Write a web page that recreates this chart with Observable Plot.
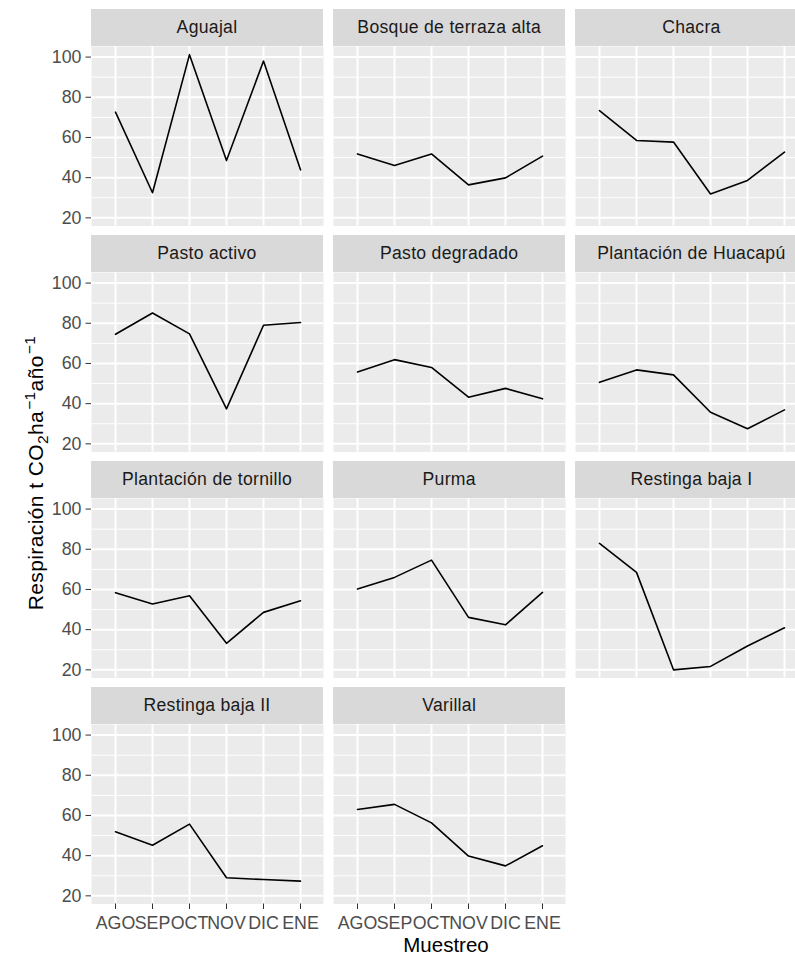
<!DOCTYPE html>
<html>
<head>
<meta charset="utf-8">
<script src="https://cdn.jsdelivr.net/npm/d3@7"></script>
<script src="https://cdn.jsdelivr.net/npm/@observablehq/plot@0.6"></script>
<style>
  html, body { margin: 0; padding: 0; background: #ffffff; overflow: hidden; }
  #chart { position: relative; width: 795px; height: 959px; overflow: hidden;
           font-family: "Liberation Sans", Arial, sans-serif; background: #ffffff; }
  .strip { position: absolute; background: #d9d9d9; color: #1a1a1a; font-size: 17.6px; letter-spacing: 0.3px;
           display: flex; align-items: center; justify-content: center; white-space: nowrap; overflow: hidden; }
  .panel { position: absolute; }
  #titles { position: absolute; left: 0; top: 0; pointer-events: none; }
</style>
</head>
<body>
<div id="chart"></div>
<script>
// ---- data ----
const months = ["AGO", "SEP", "OCT", "NOV", "DIC", "ENE"];
const sites = [
  "Aguajal", "Bosque de terraza alta", "Chacra",
  "Pasto activo", "Pasto degradado", "Plantación de Huacapú",
  "Plantación de tornillo", "Purma", "Restinga baja I",
  "Restinga baja II", "Varillal"
];
const aguajal        = [72.6, 32.5, 101.2, 48.5, 98.0, 43.9];
const bosqueTerraza  = [51.8, 46.0, 51.8, 36.4, 39.9, 50.7];
const chacra         = [73.4, 58.5, 57.7, 31.9, 38.6, 52.7];
const pastoActivo    = [74.5, 85.1, 74.7, 37.4, 79.0, 80.4];
const pastoDegradado = [55.8, 61.9, 58.0, 43.2, 47.6, 42.4];
const huacapu        = [50.6, 56.8, 54.3, 35.7, 27.5, 36.9];
const tornillo       = [58.4, 52.8, 56.9, 33.2, 48.6, 54.4];
const purma          = [60.2, 66.0, 74.6, 46.1, 42.4, 58.5];
const restingaI      = [82.9, 68.5, 20.0, 21.7, 31.9, 40.9];
const restingaII     = [51.9, 45.2, 55.7, 29.0, 28.1, 27.3];
const varillal       = [63.0, 65.5, 56.3, 39.8, 34.9, 44.9];
const seriesValues = [aguajal, bosqueTerraza, chacra, pastoActivo, pastoDegradado,
                      huacapu, tornillo, purma, restingaI, restingaII, varillal];
const yMajor = [20, 40, 60, 80, 100];
const yMinor = [30, 50, 70, 90];
const xTitle = "Muestreo";

// ---- layout ----
const PANEL_W = 232, PANEL_H = 179.5, STRIP_H = 36.5;
const colX = [91, 333.2, 575.4];
const rowY = [9, 235, 461, 687];
const allVals = seriesValues.flat();
const vMin = d3.min(allVals), vMax = d3.max(allVals);
const pad = (vMax - vMin) * 0.05;
const yDomain = [vMin - pad, vMax + pad];
const FONT = "'Liberation Sans', Arial, sans-serif";

const chart = document.getElementById("chart");

sites.forEach((site, i) => {
  const col = i % 3, row = Math.floor(i / 3);
  const showY = col === 0;
  const showX = row === 3;
  const ml = showY ? 60 : 0;
  const mb = showX ? 40 : 0;
  const data = months.map((m, j) => ({month: m, value: seriesValues[i][j]}));

  const strip = document.createElement("div");
  strip.className = "strip";
  strip.style.left = colX[col] + "px";
  strip.style.top = rowY[row] + "px";
  strip.style.width = PANEL_W + "px";
  strip.style.height = STRIP_H + "px";
  strip.textContent = site;
  chart.appendChild(strip);

  const marks = [
    Plot.frame({fill: "#ebebeb", stroke: "none"}),
    Plot.ruleY(yMinor, {stroke: "#ffffff", strokeWidth: 1}),
    Plot.ruleY(yMajor, {stroke: "#ffffff", strokeWidth: 2}),
    Plot.ruleX(months, {stroke: "#ffffff", strokeWidth: 2}),
    Plot.line(data, {x: "month", y: "value", stroke: "#000000", strokeWidth: 1.6})
  ];
  if (showY) marks.push(Plot.axisY(yMajor, {tickSize: 5.5, tickPadding: 4.5, stroke: "#333333", fill: "#4d4d4d", label: null, fontSize: 17.8}));
  if (showX) marks.push(Plot.axisX({tickSize: 5.5, tickPadding: 7, stroke: "#333333", fill: "#4d4d4d", label: null, fontSize: 17.8}));

  const p = Plot.plot({
    width: PANEL_W + ml,
    height: PANEL_H + mb,
    marginLeft: ml, marginRight: 0, marginTop: 0, marginBottom: mb,
    style: {background: "transparent", fontFamily: FONT, fontSize: "17.8px", overflow: "visible"},
    x: Object.assign({type: "point", domain: months, padding: 0.6}, showX ? {} : {axis: null}),
    y: Object.assign({domain: yDomain}, showY ? {} : {axis: null}),
    marks
  });
  p.classList.add("panel");
  p.style.left = (colX[col] - ml) + "px";
  p.style.top = (rowY[row] + STRIP_H) + "px";
  p.style.maxWidth = "none";
  chart.appendChild(p);
});

// ---- axis titles ----
const svg = d3.select(chart).append("svg")
  .attr("id", "titles").attr("width", 795).attr("height", 959)
  .style("font-family", FONT);

svg.append("text")
  .attr("x", 446).attr("y", 951.5)
  .attr("text-anchor", "middle")
  .attr("font-size", 20.5).attr("fill", "#000")
  .text(xTitle);

const yt = svg.append("text")
  .attr("transform", "translate(43,473) rotate(-90)")
  .attr("text-anchor", "middle")
  .attr("font-size", 21).attr("letter-spacing", 0.4).attr("fill", "#000");
yt.append("tspan").text("Respiración t CO");
yt.append("tspan").attr("font-size", 15.5).attr("dy", 5).text("2");
yt.append("tspan").attr("dy", -5).text("ha");
yt.append("tspan").attr("font-size", 15.5).attr("dy", -8).attr("dx", 1).text("−1");
yt.append("tspan").attr("dy", 8).text("año");
yt.append("tspan").attr("font-size", 15.5).attr("dy", -8).attr("dx", 1).text("−1");
</script>
</body>
</html>
